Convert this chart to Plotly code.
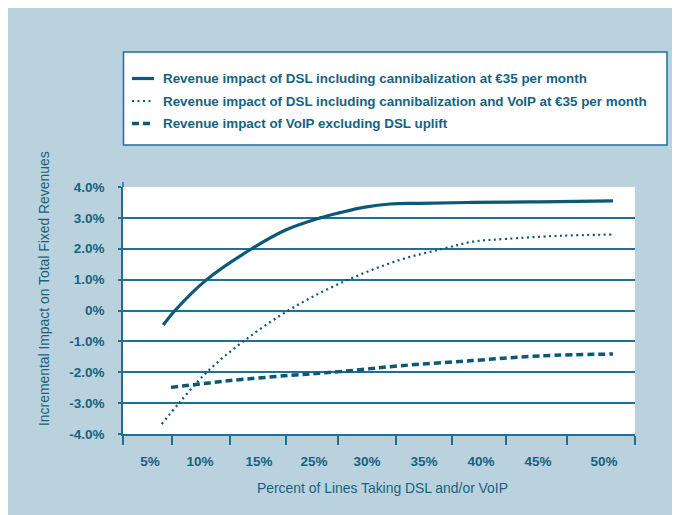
import plotly.graph_objects as go

# ---------------- data ----------------
categories = ["5%", "10%", "15%", "25%", "30%", "35%", "40%", "45%", "50%"]
# band edges and label centres of the (unevenly drawn) x categories, in axis units 0..9
band_edges = [0, 0.853, 1.881, 2.865, 3.779, 4.799, 5.783, 6.732, 7.805, 9]
label_centres = [0.475, 1.354, 2.391, 3.357, 4.289, 5.291, 6.293, 7.295, 8.455]

y_tick_vals = [4, 3, 2, 1, 0, -1, -2, -3, -4]
y_tick_text = ["4.0%", "3.0%", "2.0%", "1.0%", "0%", "-1.0%", "-2.0%", "-3.0%", "-4.0%"]

series_names = [
    "Revenue impact of DSL including cannibalization at €35 per month",
    "Revenue impact of DSL including cannibalization and VoIP at €35 per month",
    "Revenue impact of VoIP excluding DSL uplift",
]

dsl_x = [0.708, 0.914, 1.471, 2.262, 2.860, 3.463, 3.814, 4.254, 4.693, 5.22, 6.152, 7.33, 8.613]
dsl_y = [-0.47, 0.0, 1.0, 2.0, 2.61, 3.0, 3.17, 3.35, 3.45, 3.47, 3.50, 3.52, 3.55]

dsl_voip_x = [0.680, 0.984, 1.471, 2.115, 2.906, 3.814, 4.869, 5.630, 6.152, 6.745, 7.68, 8.613]
dsl_voip_y = [-3.68, -3.0, -2.0, -1.0, 0.0, 0.88, 1.64, 2.0, 2.23, 2.32, 2.42, 2.46]

voip_x = [0.844, 1.354, 1.881, 2.935, 3.814, 4.869, 6.152, 7.33, 8.613]
voip_y = [-2.49, -2.38, -2.27, -2.10, -1.98, -1.79, -1.62, -1.47, -1.41]

# ---------------- style ----------------
OFF = 8                      # page offset of the figure (body margin)
W, H = 680, 515
ML, MT = 115, 179
PW, PH = 512, 247
MR, MB = W - ML - PW, H - MT - PH

BG = "#b9d2de"
LINE = "#0b5877"
GRID = "#1e7193"
TEXT = "#17627f"
FONT = "Liberation Sans, Arial, sans-serif"

def px(x):
    """page x (pixels) -> paper x"""
    return (x - OFF - ML) / PW

def py(y):
    """page y (pixels) -> paper y"""
    return (H - MB - (y - OFF)) / PH

styles = [
    dict(width=3.2, dash="solid"),
    dict(width=2.2, dash="2px,3.5px"),
    dict(width=3.5, dash="7px,4px"),
]

fig = go.Figure()
for name, xs, ys, st in zip(series_names, [dsl_x, dsl_voip_x, voip_x], [dsl_y, dsl_voip_y, voip_y], styles):
    fig.add_trace(go.Scatter(
        x=xs, y=ys, mode="lines", name=name, showlegend=False,
        line=dict(color=LINE, width=st["width"], dash=st["dash"], shape="spline", smoothing=1.0),
        hoverinfo="skip",
    ))

shapes = []
# extension of y-axis line above plot
shapes.append(dict(type="line", xref="paper", yref="paper",
                   x0=0, x1=0, y0=1, y1=py(182), line=dict(color=GRID, width=1.5)))
# legend box
shapes.append(dict(type="rect", xref="paper", yref="paper",
                   x0=px(123.5), x1=px(667), y0=py(145), y1=py(52),
                   fillcolor="white", line=dict(color=GRID, width=1.5)))

annotations = []
row_y = [78.5, 101, 123.5]
for name, st, ry in zip(series_names, styles, row_y):
    shapes.append(dict(type="line", xref="paper", yref="paper",
                       x0=px(132), x1=px(154), y0=py(ry), y1=py(ry),
                       line=dict(color=LINE, width=st["width"], dash=st["dash"])))
    annotations.append(dict(text="<b>" + name + "</b>", xref="paper", yref="paper",
                            x=px(161), y=py(ry), xanchor="left", yanchor="middle",
                            showarrow=False, font=dict(family=FONT, size=13.4, color=TEXT)))

annotations.append(dict(text="Percent of Lines Taking DSL and/or VoIP", xref="paper", yref="paper",
                        x=px(382), y=py(488), xanchor="center", yanchor="middle", showarrow=False,
                        font=dict(family=FONT, size=13.9, color=TEXT)))
annotations.append(dict(text="Incremental Impact on Total Fixed Revenues", xref="paper", yref="paper",
                        x=px(44), y=py(289), xanchor="center", yanchor="middle", showarrow=False,
                        textangle=-90, font=dict(family=FONT, size=13.9, color=TEXT)))

fig.update_layout(
    width=W, height=H,
    margin=dict(l=ML, r=MR, t=MT, b=MB, pad=0),
    paper_bgcolor=BG,
    plot_bgcolor="white",
    shapes=shapes,
    annotations=annotations,
    showlegend=False,
    font=dict(family=FONT, color=TEXT),
)

fig.update_xaxes(
    range=[0, len(categories)],
    tickmode="array",
    tickvals=label_centres,
    ticktext=["<b>" + c + "</b>" for c in categories],
    ticks="",
    tickfont=dict(family=FONT, size=13.5, color=TEXT),
    ticklabelstandoff=14,
    showgrid=False,
    zeroline=False,
    showline=True, linecolor=GRID, linewidth=1.5,
    minor=dict(tickmode="array", tickvals=band_edges, ticks="outside", ticklen=9,
               tickcolor=GRID, tickwidth=1.5, showgrid=False),
    fixedrange=True,
)
fig.update_yaxes(
    range=[-4, 4],
    tickmode="array",
    tickvals=y_tick_vals,
    ticktext=["<b>" + t + "</b>" for t in y_tick_text],
    ticks="outside", ticklen=3, tickcolor=GRID, tickwidth=1.5,
    tickfont=dict(family=FONT, size=13.5, color=TEXT),
    ticklabelstandoff=11,
    showgrid=True, gridcolor=GRID, gridwidth=1.5,
    zeroline=False,
    showline=True, linecolor=GRID, linewidth=1.5,
    fixedrange=True,
)

fig.write_html("out.html")
